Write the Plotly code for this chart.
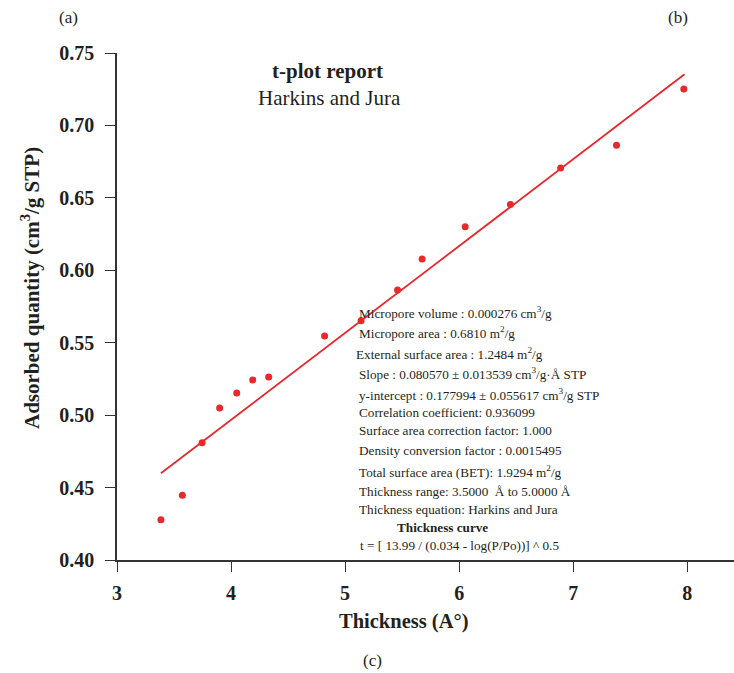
import plotly.graph_objects as go

thickness = [3.385, 3.573, 3.746, 3.90, 4.05, 4.19, 4.33, 4.82, 5.14, 5.46, 5.675, 6.053, 6.45, 6.89, 7.38, 7.97]
adsorbed = [0.4278, 0.4447, 0.481, 0.505, 0.5153, 0.5243, 0.5263, 0.5546, 0.5652, 0.5864, 0.6078, 0.630, 0.6455, 0.6706, 0.6863, 0.7252]
fit_x = [3.385, 7.976]
fit_y = [0.4599, 0.7353]

x_ticks = [3, 4, 5, 6, 7, 8]
y_ticks = [0.40, 0.45, 0.50, 0.55, 0.60, 0.65, 0.70, 0.75]

stats_lines = [
    "Micropore volume : 0.000276 cm<sup>3</sup>/g",
    "Micropore area : 0.6810 m<sup>2</sup>/g",
    "External surface area : 1.2484 m<sup>2</sup>/g",
    "Slope : 0.080570 ± 0.013539 cm<sup>3</sup>/g·Å STP",
    "y-intercept : 0.177994 ± 0.055617 cm<sup>3</sup>/g STP",
    "Correlation coefficient: 0.936099",
    "Surface area correction factor: 1.000",
    "Density conversion factor : 0.0015495",
    "Total surface area (BET): 1.9294 m<sup>2</sup>/g",
    "Thickness range: 3.5000  Å to 5.0000 Å",
    "Thickness equation: Harkins and Jura",
    "<b>Thickness curve</b>",
    "t = [ 13.99 / (0.034 - log(P/Po))] ^ 0.5",
]

RED = "#e8282b"
INK = "#231f20"
FONT = "Liberation Serif"
W, H = 734, 673
L, R, T, B = 117, 0, 53, 113
pw, ph = W - L - R, H - T - B

def px(x):
    return (x - L) / pw

def py(y):
    return (H - B - y) / ph

fig = go.Figure()
fig.add_trace(go.Scatter(x=fit_x, y=fit_y, mode="lines",
                         line=dict(color=RED, width=1.8), showlegend=False))
fig.add_trace(go.Scatter(x=thickness, y=adsorbed, mode="markers",
                         marker=dict(color=RED, size=7), showlegend=False))

axis_common = dict(
    showgrid=False, zeroline=False, showline=True, linecolor="#333333", linewidth=1.5,
    ticks="outside", ticklen=10, tickwidth=1.3, tickcolor="#333333",
    tickfont=dict(family=FONT, size=20, color=INK, weight="bold"),
)

fig.update_xaxes(range=[3, 8.41], tickvals=x_ticks, ticktext=[str(v) for v in x_ticks],
                 ticklabelstandoff=4, **axis_common)
fig.update_yaxes(range=[0.40, 0.75], tickvals=y_ticks, ticktext=[f"{v:.2f}" for v in y_ticks],
                 ticklabelstandoff=7, **axis_common)

annots = []
def add(text, x, y, size, anchor="center", angle=0):
    annots.append(dict(text=text, x=px(x), y=py(y), xref="paper", yref="paper",
                       showarrow=False, xanchor=anchor, yanchor="middle", textangle=angle,
                       font=dict(family=FONT, size=size, color=INK)))

add("<b>t-plot report</b>", 327, 71, 21)
add("Harkins and Jura", 329, 98, 21)
add("<b>Adsorbed quantity (cm<sup>3</sup>/g STP)</b>", 30, 288, 21, angle=-90)
add("<b>Thickness (A°)</b>", 404, 621, 20.5)
add("(a)", 68, 17, 17)
add("(b)", 678, 17, 17)
add("(c)", 372, 660, 17)

ys = [312, 333, 354, 373, 394, 412, 430, 450, 471, 491, 509, 527, 545]
xs = [357, 357, 354, 357, 357, 357, 357, 357, 357, 357, 357, None, 358]
for s, xx, yy in zip(stats_lines, xs, ys):
    if xx is None:
        add(s, 442, yy, 13.2)
    else:
        add(s, xx, yy, 13.2, anchor="left")

fig.update_layout(
    width=W, height=H, margin=dict(l=L, r=R, t=T, b=B),
    plot_bgcolor="white", paper_bgcolor="white",
    annotations=annots, showlegend=False,
)

fig.write_html("out.html")
